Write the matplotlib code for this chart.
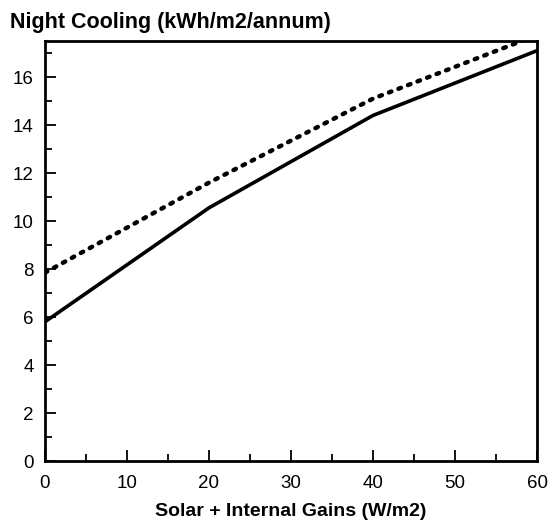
import matplotlib
matplotlib.use("Agg")
import matplotlib.pyplot as plt
from matplotlib.ticker import MultipleLocator

plt.rcParams['font.family'] = ['Liberation Sans', 'DejaVu Sans']

gains = [0, 20, 40, 60]
solid_vals = [5.8, 10.55, 14.4, 17.1]
dotted_vals = [7.85, 11.6, 15.1, 17.75]

fig = plt.figure(figsize=(5.55, 5.23), dpi=100)
ax = fig.add_axes([0.081, 0.1185, 0.8866, 0.803])

ax.plot(gains, solid_vals, color='black', lw=2.6, solid_capstyle='round')
ax.plot(gains, dotted_vals, color='black', lw=3.2, linestyle=(0, (0.6, 1.7)),
        dash_capstyle='round')

ax.set_xlim(0, 60)
ax.set_ylim(0, 17.5)
ax.xaxis.set_major_locator(MultipleLocator(10))
ax.xaxis.set_minor_locator(MultipleLocator(5))
ax.yaxis.set_major_locator(MultipleLocator(2))
ax.yaxis.set_minor_locator(MultipleLocator(1))
ax.tick_params(which='both', direction='in', top=False, right=False, width=1.3,
               labelsize=13.5)
ax.tick_params(which='major', length=8, pad=8)
ax.tick_params(axis='x', which='major', pad=10)
ax.tick_params(which='minor', length=5)
for s in ax.spines.values():
    s.set_linewidth(2)

ax.set_xlabel('Solar + Internal Gains (W/m2)', fontsize=14, fontweight='bold', labelpad=8)
fig.text(0.018, 0.957, 'Night Cooling (kWh/m2/annum)', fontsize=15.5, fontweight='bold',
         ha='left', va='center')

fig.savefig('out.png', dpi=100, facecolor='white')
